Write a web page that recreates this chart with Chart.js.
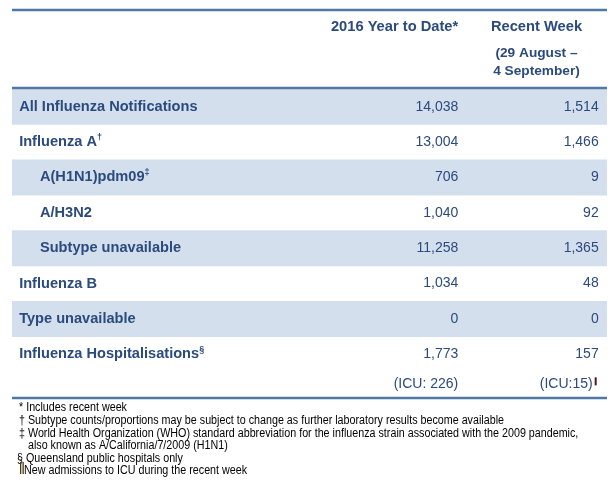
<!DOCTYPE html>
<html>
<head>
<meta charset="utf-8">
<script src="https://cdn.jsdelivr.net/npm/chart.js@4"></script>
<style>
  html, body { margin: 0; padding: 0; background: #fff; }
  #wrap { width: 615px; height: 484px; }
</style>
</head>
<body>
<div id="wrap"><canvas id="tbl" width="615" height="484"></canvas></div>
<script>
// table data
const rowLabels = ['All Influenza Notifications', 'Influenza A', 'A(H1N1)pdm09', 'A/H3N2',
  'Subtype unavailable', 'Influenza B', 'Type unavailable', 'Influenza Hospitalisations'];
const rowMarks = ['', '†', '‡', '', '', '', '', '§'];
const rowLevel = [0, 0, 1, 1, 1, 0, 0, 0];
const yearToDate = [14038, 13004, 706, 1040, 11258, 1034, 0, 1773];
const recentWeek = [1514, 1466, 9, 92, 1365, 48, 0, 157];
const shadedRows = [true, false, true, false, true, false, true, false];
const icuYearToDate = 226;
const icuRecentWeek = 15;
const colHeads = ['2016 Year to Date*', 'Recent Week'];
const weekRange = ['(29 August –', '4 September)'];
const footnotes = [
  '* Includes recent week',
  '† Subtype counts/proportions may be subject to change as further laboratory results become available',
  '‡ World Health Organization (WHO) standard abbreviation for the influenza strain associated with the 2009 pandemic,',
  '   also known as A/California/7/2009 (H1N1)',
  '§ Queensland public hospitals only',
  'New admissions to ICU during the recent week'
];

const INK = '#2b4a7d';
const BAND = '#d4dfee';
const RULE = '#4f7aa8';
const FONT = '"Liberation Sans", Arial, sans-serif';
const fmtN = v => v.toLocaleString('en-US');

// x positions (fraction of table width)
const COL_LABEL = 0.012, COL_INDENT = 0.047, COL_YTD = 0.75, COL_WEEK = 0.986, COL_WEEK_MID = 0.8815;

const tablePlugin = {
  id: 'tableText',
  afterDatasetsDraw(chart) {
    const { ctx, chartArea, scales: { x, y } } = chart;
    const L = chartArea.left, R = chartArea.right;
    ctx.save();

    // rules
    ctx.strokeStyle = RULE;
    ctx.lineWidth = 2.5;
    [10, chartArea.top - 1, 398].forEach(yy => {
      ctx.beginPath(); ctx.moveTo(L, yy); ctx.lineTo(R, yy); ctx.stroke();
    });

    // header
    ctx.fillStyle = INK;
    ctx.textBaseline = 'middle';
    ctx.font = 'bold 14.7px ' + FONT;
    ctx.textAlign = 'right';
    ctx.fillText(colHeads[0], x.getPixelForValue(COL_YTD), 27);
    ctx.textAlign = 'center';
    ctx.fillText(colHeads[1], x.getPixelForValue(COL_WEEK_MID), 27);
    ctx.font = 'bold 13.7px ' + FONT;
    ctx.fillText(weekRange[0], x.getPixelForValue(COL_WEEK_MID), 53);
    ctx.fillText(weekRange[1], x.getPixelForValue(COL_WEEK_MID), 71);

    // rows
    rowLabels.forEach((lab, i) => {
      const yy = y.getPixelForValue(i);
      const lx = x.getPixelForValue(rowLevel[i] ? COL_INDENT : COL_LABEL);
      ctx.textAlign = 'left';
      ctx.font = 'bold 14.6px ' + FONT;
      ctx.fillText(lab, lx, yy);
      if (rowMarks[i]) {
        const w = ctx.measureText(lab).width;
        ctx.font = 'bold 9px ' + FONT;
        ctx.fillText(rowMarks[i], lx + w, yy - 5);
      }
      ctx.textAlign = 'right';
      ctx.font = '14px ' + FONT;
      ctx.fillText(fmtN(yearToDate[i]), x.getPixelForValue(COL_YTD), yy);
      ctx.fillText(fmtN(recentWeek[i]), x.getPixelForValue(COL_WEEK), yy);
    });

    // ICU line under hospitalisations
    const last = rowLabels.length - 1;
    const icuY = y.getPixelForValue(last) + 30;
    ctx.fillText('(ICU: ' + icuYearToDate + ')', x.getPixelForValue(COL_YTD), icuY);
    ctx.fillText('(ICU:' + icuRecentWeek + ')', x.getPixelForValue(COL_WEEK) - 6, icuY);
    ctx.fillStyle = '#5b1020';
    ctx.fillRect(x.getPixelForValue(COL_WEEK) - 4, icuY - 7, 2, 8);

    // footnotes (condensed face)
    ctx.fillStyle = '#000';
    ctx.textAlign = 'left';
    ctx.font = '12.5px ' + FONT;
    const sx = 485 / ctx.measureText(footnotes[1]).width;
    footnotes.forEach((t, i) => {
      const fx = i === footnotes.length - 1 ? 24 : (i === 4 ? 17 : 19);
      ctx.save();
      ctx.translate(fx, 408 + i * 12.6);
      ctx.scale(sx, 1);
      ctx.fillText(t, 0, 0);
      ctx.restore();
    });
    ctx.fillStyle = '#4a3a10';
    ctx.fillRect(20, 462, 1.3, 12);
    ctx.fillRect(22.5, 462, 1.3, 12);
    ctx.restore();
  }
};

new Chart(document.getElementById('tbl'), {
  type: 'bar',
  data: {
    labels: rowLabels,
    datasets: [{
      data: shadedRows.map(s => s ? [0, 1] : null),
      backgroundColor: BAND,
      borderWidth: 0,
      barPercentage: 1,
      categoryPercentage: 1
    }]
  },
  options: {
    indexAxis: 'y',
    responsive: false,
    animation: false,
    layout: { padding: { top: 89, bottom: 112, left: 12, right: 8 } },
    plugins: { legend: { display: false }, tooltip: { enabled: false } },
    scales: {
      x: { type: 'linear', min: 0, max: 1, display: false },
      y: { display: false }
    }
  },
  plugins: [tablePlugin]
});
</script>
</body>
</html>
